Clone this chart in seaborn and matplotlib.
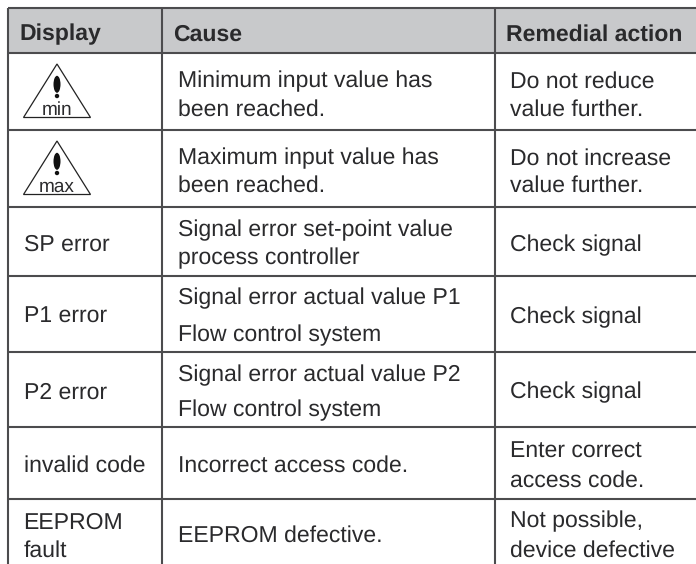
import matplotlib
matplotlib.use("Agg")
import matplotlib.pyplot as plt
from matplotlib.patches import Ellipse, Circle, Polygon, Rectangle
import seaborn as sns

sns.set_theme(style="white")
plt.rcParams['font.family'] = ['Liberation Sans', 'DejaVu Sans']
plt.rcParams['text.hinting'] = 'none'
plt.rcParams['text.hinting_factor'] = 1

# ---- table content ----
headers = ["Display", "Cause", "Remedial action"]
display_col = ["SP error", "P1 error", "P2 error", "invalid code", "EEPROM", "fault"]
cause_col = ["Minimum input value has", "been reached.",
             "Maximum input value has", "been reached.",
             "Signal error set-point value", "process controller",
             "Signal error actual value P1", "Flow control system",
             "Signal error actual value P2", "Flow control system",
             "Incorrect access code.", "EEPROM defective."]
action_col = ["Do not reduce", "value further.",
              "Do not increase", "value further.",
              "Check signal", "Check signal", "Check signal",
              "Enter correct", "access code.",
              "Not possible,", "device defective"]
symbols = ["min", "max"]

# ---- layout, in reference pixels ----
W, H = 696, 564
col_rules = [8, 162, 495]
row_rules = [7.5, 52.5, 129.5, 207, 275.5, 351.5, 427, 499]
header_x = [19, 173, 506.5]
header_base = 40.5
display_x, cause_x, action_x = 23.5, 178, 510
display_base = [251.2, 323.2, 398.5, 472.2, 528.5, 557.2]
cause_base = [87.5, 115.5, 164.5, 192.2, 236.2, 264.5, 304.5, 341.2, 381.2, 416.5, 472.2, 542.2]
action_base = [87.5, 115.5, 164.5, 192.2, 251.2, 323.2, 398.5, 457.5, 487.2, 527.5, 557.2]
tri_apex = [64, 141]
INK = "#2a2a2c"
RULE = "#4c4c4e"
FS = 16.7

fig = plt.figure(figsize=(W / 100, H / 100), dpi=100, facecolor="white")
ax = fig.add_axes([0, 0, 1, 1])
ax.add_patch(Rectangle((col_rules[0], row_rules[0]), W - col_rules[0],
                       row_rules[1] - row_rules[0], fc="#c8c9cb", ec="none", zorder=0))

for y in row_rules:
    sns.lineplot(x=[col_rules[0], W], y=[y, y], color=RULE, lw=1.5, ax=ax,
                 estimator=None, solid_capstyle="butt")
for x in col_rules:
    sns.lineplot(x=[x, x], y=[row_rules[0], H], color=RULE, lw=1.5, ax=ax,
                 estimator=None, orient="y", solid_capstyle="butt")

for x, t in zip(header_x, headers):
    ax.text(x, header_base, t, fontsize=16.3, fontweight="bold", color=INK, va="baseline")
for y, t in zip(display_base, display_col):
    ax.text(display_x, y, t, fontsize=FS, color=INK, va="baseline")
for y, t in zip(cause_base, cause_col):
    ax.text(cause_x, y, t, fontsize=FS, color=INK, va="baseline")
for y, t in zip(action_base, action_col):
    ax.text(action_x, y, t, fontsize=FS, color=INK, va="baseline")

for apex, label in zip(tri_apex, symbols):
    ax.add_patch(Polygon([(57, apex), (23.5, apex + 53.5), (90.5, apex + 53.5)],
                         closed=True, fc="white", ec="#222222", lw=0.9, zorder=3))
    ax.add_patch(Ellipse((57, apex + 20.3), 7, 17, fc="#111111", ec="none", zorder=4))
    ax.add_patch(Circle((57, apex + 32), 2.2, fc="#111111", ec="none", zorder=4))
    ax.text(57, apex + 51, label, fontsize=13.5, color=INK, ha="center", va="baseline", zorder=5)

ax.set_xlim(0, W)
ax.set_ylim(H, 0)
ax.axis("off")
fig.savefig("out.png", dpi=100)
